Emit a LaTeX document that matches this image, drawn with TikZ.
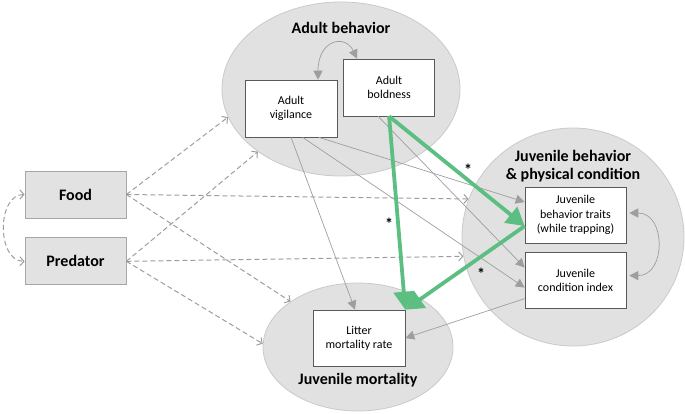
\documentclass[tikz,border=0pt]{standalone}
\usepackage{fontspec}
\setmainfont{Carlito}
\usetikzlibrary{calc,positioning,shapes.geometric,arrows.meta}
\definecolor{ellfill}{RGB}{225,225,225}
\definecolor{elldraw}{RGB}{202,202,202}
\definecolor{boxgray}{RGB}{226,226,226}
\definecolor{arrowgray}{RGB}{158,158,158}
\definecolor{effgreen}{RGB}{92,190,128}
\tikzset{line/.style={draw, arrowgray, line width=0.7pt, -{Triangle[length=9pt,width=9pt]}}}
\tikzset{dline/.style={draw, arrowgray, line width=1pt, dash pattern=on 5pt off 3pt, -{Straight Barb[length=4pt,width=9pt]}}}
\tikzset{gline/.style={draw, effgreen, line width=3.8pt, -{Triangle[length=18pt,width=20pt]}}}

\begin{document}
\begin{tikzpicture}[x=1pt, y=-1pt, node distance=1cm, auto]
\tikzstyle{group} = [ellipse, fill=ellfill, draw=elldraw, line width=0.8pt, inner sep=0pt]
\tikzstyle{block} = [rectangle, draw=black!65, fill=white, line width=0.6pt, align=center, minimum width=92pt, minimum height=57pt, font=\fontsize{12}{14.2}\selectfont]
\tikzstyle{factor} = [rectangle, draw=black!35, fill=boxgray, line width=0.8pt, minimum width=101pt, minimum height=47pt, font=\fontsize{16}{19}\selectfont\bfseries]
\tikzstyle{title} = [align=center, font=\fontsize{16}{18.5}\selectfont\bfseries]
\tikzstyle{star} = [inner sep=0pt, font=\fontsize{16}{16}\selectfont\bfseries]

\useasboundingbox (0,0) rectangle (685,413);

\node [group, minimum width=238pt, minimum height=174pt](adult) at (341,89) {};
\node [group, minimum width=222pt, minimum height=218pt](juv) at (573,237) {};
\node [group, minimum width=190pt, minimum height=128pt](mort) at (358,347) {};
\node [title](adult_label) at (341,28) {Adult behavior};
\node [title](juv_label) at (573,166) {Juvenile behavior\\\& physical condition};
\node [title](mort_label) at (358,380) {Juvenile mortality};

\node [factor](food) at (75.5,194.5) {Food};
\node [factor, below=19pt of food](pred) {Predator};

\node [block](vig) at (291,108.5) {Adult\\vigilance};
\node [block, right=6pt of vig.east, anchor=west, yshift=21pt, minimum width=91pt](bold) {Adult\\boldness};
\node [block, minimum width=101pt, minimum height=56pt](jbeh) at (575.5,215) {Juvenile\\behavior traits\\(while trapping)};
\node [block, minimum width=101pt, minimum height=56pt, below=9pt of jbeh](jcond) {Juvenile\\condition index};
\node [block, minimum height=56pt](litter) at (359,338) {Litter\\mortality rate};

\path [dline] (food.east) -- (adult.194);
\path [dline] (food.east) -- (juv.160);
\path [dline] (food.east) -- (mort.146);
\path [dline] (pred.east) -- (adult.217);
\path [dline] (pred.east) -- (juv.190);
\path [dline] (pred.east) -- (mort.178);
\path [dline, {Straight Barb[length=4pt,width=9pt]}-{Straight Barb[length=4pt,width=9pt]}] (food.west) .. controls +(-28,0) and +(-28,0) .. (pred.west);

\path [line] (vig.south) -- ([xshift=-4pt]litter.north);
\path [line] ($(vig.south)!0.6!(vig.south east)$) -- ([yshift=13pt]jbeh.west);
\path [line] ($(vig.south)!0.25!(vig.south east)$) -- ([yshift=-7pt]jcond.west);
\path [line] ([xshift=-11pt]bold.south) -- ([yshift=13pt]jcond.west);
\path [line] ([yshift=-18pt]jcond.west) -- (litter.east);
\path [line, {Triangle[length=9pt,width=9pt]}-{Triangle[length=9pt,width=9pt]}] ([xshift=27pt]vig.north) .. controls +(0,-40) and +(-12,-25) .. ([xshift=-32pt]bold.north);
\path [line, {Triangle[length=9pt,width=9pt]}-{Triangle[length=9pt,width=9pt]}, shorten <=3pt, shorten >=3pt] ([yshift=2pt]jbeh.east) .. controls +(40,0) and +(40,0) .. ([yshift=5pt]jcond.east);

\path [gline] (bold.south) -- ([yshift=-11pt]jbeh.west);
\path [gline] (bold.south) -- (litter.north east);
\path [gline] ([yshift=-11pt]jbeh.west) -- (litter.north east);

\node [star](ast_bold_beh) at (468,170) {*};
\node [star](ast_bold_mort) at (389,224) {*};
\node [star](ast_beh_mort) at (481,274) {*};

\end{tikzpicture}
\end{document}
